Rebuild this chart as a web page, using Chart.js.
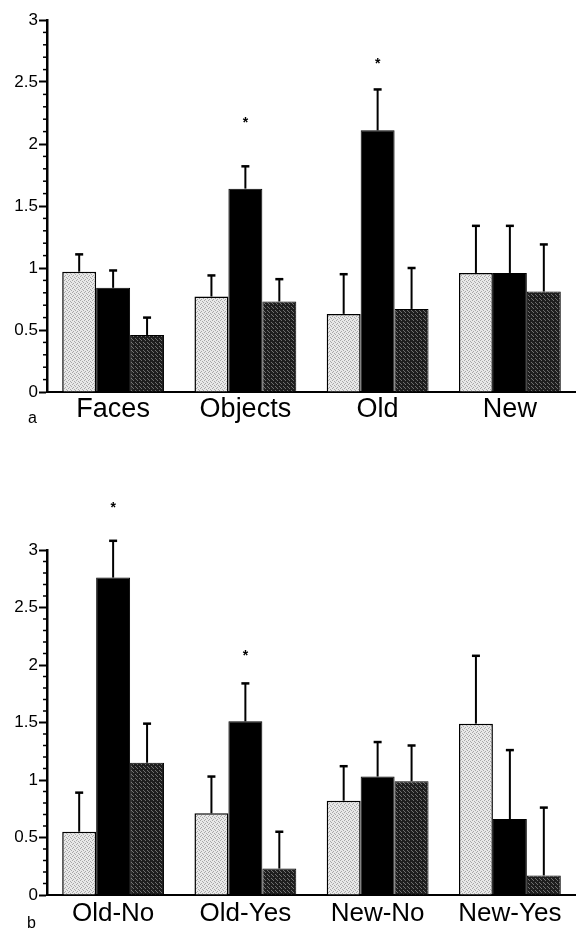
<!DOCTYPE html>
<html>
<head>
<meta charset="utf-8">
<script src="https://cdn.jsdelivr.net/npm/chart.js@4/dist/chart.umd.min.js"></script>
<style>
body{margin:0;background:#fff;width:576px;height:930px;overflow:hidden;position:relative}
canvas{position:absolute;left:0}
.lab{position:absolute;font:16px "Liberation Sans",Arial,sans-serif;color:#000}
</style>
</head>
<body>
<canvas id="ca" width="576" height="440" style="top:0"></canvas>
<canvas id="cb" width="576" height="490" style="top:440px"></canvas>
<div class="lab" style="left:28px;top:409px">a</div>
<div class="lab" style="left:27px;top:914px">b</div>
<script>
// panel a
catsA   = ['Faces','Objects','Old','New']
lightA  = [0.97,0.77,0.63,0.96]
lightSA = [0.14,0.17,0.32,0.38]
blackA  = [0.84,1.64,2.11,0.96]
blackSA = [0.14,0.18,0.33,0.38]
darkA   = [0.46,0.73,0.67,0.81]
darkSA  = [0.14,0.18,0.33,0.38]
starA   = [null,2.19,2.67,null]

// panel b
catsB   = ['Old-No','Old-Yes','New-No','New-Yes']
lightB  = [0.55,0.71,0.82,1.49]
lightSB = [0.34,0.32,0.30,0.59]
blackB  = [2.76,1.51,1.03,0.66]
blackSB = [0.32,0.33,0.30,0.60]
darkB   = [1.15,0.23,0.99,0.17]
darkSB  = [0.34,0.32,0.31,0.59]
starB   = [3.39,2.10,null,null]

yTicks = [0,0.5,1,1.5,2,2.5,3]

function pattern(base,dot,pts){
    var c=document.createElement('canvas'); c.width=4; c.height=4
    var g=c.getContext('2d')
    g.fillStyle=base; g.fillRect(0,0,4,4)
    g.fillStyle=dot
    pts.forEach(function(p){ g.fillRect(p[0],p[1],1,1) })
    return g.createPattern(c,'repeat')
}
lightFill = pattern('#e8e8e8','#a8a8a8',[[0,0],[2,1],[1,3],[3,2]])
darkFill  = pattern('#1e1e1e','#707070',[[1,0],[3,2],[0,3]])

errPlugin = {
    id:'errs',
    afterDatasetsDraw:function(chart){
        var ctx=chart.ctx, ys=chart.scales.y
        ctx.save()
        ctx.strokeStyle='#000'
        chart.data.datasets.forEach(function(ds,i){
            var meta=chart.getDatasetMeta(i)
            meta.data.forEach(function(bar,j){
                var top=ys.getPixelForValue(ds.data[j]+ds.sem[j])
                ctx.lineWidth=2
                ctx.beginPath(); ctx.moveTo(bar.x,bar.y); ctx.lineTo(bar.x,top); ctx.stroke()
                ctx.lineWidth=2.5
                ctx.beginPath(); ctx.moveTo(bar.x-4,top); ctx.lineTo(bar.x+4,top); ctx.stroke()
                if(ds.stars && ds.stars[j]!=null){
                    ctx.fillStyle='#000'
                    ctx.font='bold 14px "Liberation Sans",Arial'
                    ctx.textAlign='center'; ctx.textBaseline='middle'
                    ctx.fillText('*',bar.x,ys.getPixelForValue(ds.stars[j])+3)
                }
            })
        })
        // minor ticks on y axis
        ctx.lineWidth=1.5
        for(var v=0; v<=30; v++){
            if(v%5==0) continue
            var py=ys.getPixelForValue(v/10)
            ctx.beginPath(); ctx.moveTo(ys.right-4,py); ctx.lineTo(ys.right,py); ctx.stroke()
        }
        ctx.restore()
    }
}

function plot(id,cats,vals,sems,stars,padTop,axisH,labFont,labPad){
    return new Chart(document.getElementById(id).getContext('2d'),{
        type:'bar',
        data:{
            labels:cats,
            datasets:[
                {data:vals[0],sem:sems[0],backgroundColor:lightFill,borderColor:'#000',borderWidth:1.5},
                {data:vals[1],sem:sems[1],stars:stars,backgroundColor:'#000',borderColor:'#000',borderWidth:1},
                {data:vals[2],sem:sems[2],backgroundColor:darkFill,borderColor:'#000',borderWidth:1}
            ]
        },
        options:{
            responsive:false,
            animation:false,
            categoryPercentage:0.77,
            barPercentage:1,
            layout:{padding:{top:padTop,left:0,right:0,bottom:0}},
            plugins:{legend:{display:false},tooltip:{enabled:false}},
            scales:{
                x:{
                    grid:{display:false,drawTicks:false},
                    border:{display:true,color:'#000',width:2},
                    ticks:{color:'#000',font:labFont,padding:labPad,maxRotation:0},
                    afterFit:function(s){ s.height=axisH }
                },
                y:{
                    min:0,max:3,
                    afterBuildTicks:function(s){ s.ticks=yTicks.map(function(v){return {value:v}}) },
                    grid:{drawOnChartArea:false,tickLength:8,tickWidth:2,tickColor:'#000'},
                    border:{display:true,color:'#000',width:2.5},
                    ticks:{color:'#000',padding:1,font:{family:'"Liberation Sans",Arial',size:17},
                        callback:function(v){return String(v)}},
                    afterFit:function(s){ s.width=47 }
                }
            }
        },
        plugins:[errPlugin]
    })
}

plot('ca',catsA,[lightA,blackA,darkA],[lightSA,blackSA,darkSA],starA,20,48,
     {family:'"Liberation Sans",Arial',size:27},1)
plot('cb',catsB,[lightB,blackB,darkB],[lightSB,blackSB,darkSB],starB,110,35,
     {family:'"Liberation Sans",Arial',size:26},3)
</script>
</body>
</html>
